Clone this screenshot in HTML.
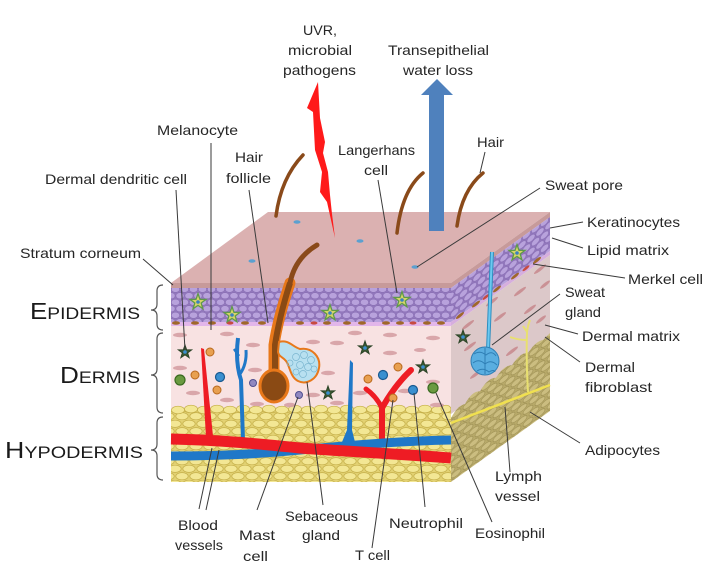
<!DOCTYPE html>
<html><head><meta charset="utf-8">
<style>
html,body{margin:0;padding:0;background:#fff;}
svg{display:block}
text{font-family:"Liberation Sans",sans-serif;fill:#262626;font-size:14px;}
</style></head><body>
<svg width="709" height="567" viewBox="0 0 709 567" xmlns="http://www.w3.org/2000/svg">
<defs>
<pattern id="epi" width="9" height="13" patternUnits="userSpaceOnUse">
<rect width="9" height="13" fill="#9278bc"/>
<ellipse cx="4.5" cy="3.25" rx="4.1" ry="3.1" fill="#b8a2dc" stroke="#8468b0" stroke-width="0.5"/>
<ellipse cx="0" cy="9.75" rx="4.1" ry="3.1" fill="#b8a2dc" stroke="#8468b0" stroke-width="0.5"/>
<ellipse cx="9" cy="9.75" rx="4.1" ry="3.1" fill="#b8a2dc" stroke="#8468b0" stroke-width="0.5"/>
</pattern>
<pattern id="hypo" width="14" height="15" patternUnits="userSpaceOnUse">
<rect width="14" height="15" fill="#e2d172"/>
<ellipse cx="7" cy="3.75" rx="6.2" ry="3.6" fill="#f3e794" stroke="#c4ae48" stroke-width="0.7"/>
<ellipse cx="0" cy="11.25" rx="6.2" ry="3.6" fill="#f3e794" stroke="#c4ae48" stroke-width="0.7"/>
<ellipse cx="14" cy="11.25" rx="6.2" ry="3.6" fill="#f3e794" stroke="#c4ae48" stroke-width="0.7"/>
</pattern>
<pattern id="hypoR" width="12" height="12" patternUnits="userSpaceOnUse">
<rect width="12" height="12" fill="#b8aa6a"/>
<ellipse cx="6" cy="3" rx="5" ry="2.8" fill="#cbbd80" stroke="#9a8c50" stroke-width="0.6"/>
<ellipse cx="0" cy="9" rx="5" ry="2.8" fill="#cbbd80" stroke="#9a8c50" stroke-width="0.6"/>
<ellipse cx="12" cy="9" rx="5" ry="2.8" fill="#cbbd80" stroke="#9a8c50" stroke-width="0.6"/>
</pattern>
<g id="lstar"><polygon points="0,-8.4 2,-2.7 8,-2.6 3.2,1 4.9,6.8 0,3.4 -4.9,6.8 -3.2,1 -8,-2.6 -2,-2.7" fill="#d6d468" stroke="#5f9a4a" stroke-width="1.3"/><circle r="1.8" fill="#3a7fc0"/></g>
<g id="dstar"><polygon points="0,-7 1.65,-2.27 6.66,-2.16 2.66,0.87 4.11,5.66 0,2.8 -4.11,5.66 -2.66,0.87 -6.66,-2.16 -1.65,-2.27" fill="#3b5a34" stroke="#2b4326" stroke-width="1"/><circle r="1.8" fill="#3a8fd0"/></g>
</defs>

<!-- top face -->
<polygon points="268,212 550,212 451,283 171,283" fill="#dbb1b1"/>
<polygon points="171,283 451,283 451,288 171,288" fill="#c79a9a"/>

<!-- front face -->
<rect x="171" y="288" width="280" height="34" fill="url(#epi)"/>
<rect x="171" y="322" width="280" height="4" fill="#e2b6ea"/>
<rect x="171" y="326" width="280" height="84" fill="#f8e2e2"/>
<rect x="171" y="410" width="280" height="72" fill="url(#hypo)"/>
<g fill="#f3e794" stroke="#c4ae48" stroke-width="0.7">
<ellipse cx="178" cy="410" rx="6.5" ry="3.8"/><ellipse cx="191" cy="409" rx="6.5" ry="3.8"/><ellipse cx="204" cy="410" rx="6.5" ry="3.8"/><ellipse cx="217" cy="409" rx="6.5" ry="3.8"/><ellipse cx="230" cy="410" rx="6.5" ry="3.8"/><ellipse cx="243" cy="409" rx="6.5" ry="3.8"/><ellipse cx="256" cy="410" rx="6.5" ry="3.8"/><ellipse cx="269" cy="409" rx="6.5" ry="3.8"/><ellipse cx="282" cy="410" rx="6.5" ry="3.8"/><ellipse cx="295" cy="409" rx="6.5" ry="3.8"/><ellipse cx="308" cy="410" rx="6.5" ry="3.8"/><ellipse cx="321" cy="409" rx="6.5" ry="3.8"/><ellipse cx="334" cy="410" rx="6.5" ry="3.8"/><ellipse cx="347" cy="409" rx="6.5" ry="3.8"/><ellipse cx="360" cy="410" rx="6.5" ry="3.8"/><ellipse cx="373" cy="409" rx="6.5" ry="3.8"/><ellipse cx="386" cy="410" rx="6.5" ry="3.8"/><ellipse cx="399" cy="409" rx="6.5" ry="3.8"/><ellipse cx="412" cy="410" rx="6.5" ry="3.8"/><ellipse cx="425" cy="409" rx="6.5" ry="3.8"/><ellipse cx="438" cy="410" rx="6.5" ry="3.8"/><ellipse cx="446" cy="409" rx="5" ry="3.8"/>
</g>

<!-- right face (skewed) -->
<g transform="matrix(1,-0.717,0,1,0,323.37)">
<rect x="451" y="283" width="99" height="5" fill="#c79a9a"/>
<rect x="451" y="288" width="99" height="34" fill="url(#epi)"/>
<rect x="451" y="322" width="99" height="4" fill="#d6aede"/>
<rect x="451" y="326" width="99" height="88" fill="#dcc8c9"/>
<path d="M451,418 Q458,410 465,414 Q472,406 480,412 Q488,404 496,410 Q504,403 512,409 Q520,402 528,408 Q536,402 543,406 L550,404 L550,482 L451,482 Z" fill="url(#hypoR)"/>
<g fill="#c98c90" opacity="0.9">
<ellipse cx="468" cy="337" rx="6" ry="2"/><ellipse cx="492" cy="331" rx="6" ry="2"/><ellipse cx="520" cy="341" rx="6" ry="2"/><ellipse cx="540" cy="333" rx="6" ry="2"/><ellipse cx="470" cy="360" rx="6" ry="2"/><ellipse cx="500" cy="352" rx="6" ry="2"/><ellipse cx="530" cy="366" rx="6" ry="2"/><ellipse cx="545" cy="352" rx="5" ry="2"/><ellipse cx="476" cy="392" rx="6" ry="2"/><ellipse cx="512" cy="395" rx="6" ry="2"/><ellipse cx="541" cy="384" rx="5" ry="2"/>
</g>
<g fill="#a0682a"><ellipse cx="460" cy="322" rx="4" ry="1.8"/><ellipse cx="476" cy="322" rx="4" ry="1.8"/><ellipse cx="497" cy="322" rx="4" ry="1.8"/><ellipse cx="515" cy="322" rx="4" ry="1.8"/><ellipse cx="537" cy="322" rx="4" ry="1.8"/></g>
<g fill="#c84a40"><ellipse cx="486" cy="322" rx="3.5" ry="1.6"/><ellipse cx="526" cy="322" rx="3.5" ry="1.6"/></g>
</g>

<!-- front fibroblasts -->
<g fill="#d6a0a4" opacity="0.9">
<ellipse cx="180" cy="335" rx="7" ry="2.2"/><ellipse cx="227" cy="334" rx="7" ry="2.2"/><ellipse cx="253" cy="345" rx="7" ry="2.2"/><ellipse cx="313" cy="342" rx="7" ry="2.2"/><ellipse cx="337" cy="343" rx="7" ry="2.2"/><ellipse cx="390" cy="335" rx="7" ry="2.2"/><ellipse cx="433" cy="338" rx="7" ry="2.2"/><ellipse cx="180" cy="368" rx="7" ry="2.2"/><ellipse cx="255" cy="370" rx="7" ry="2.2"/><ellipse cx="328" cy="373" rx="7" ry="2.2"/><ellipse cx="390" cy="353" rx="7" ry="2.2"/><ellipse cx="433" cy="382" rx="7" ry="2.2"/><ellipse cx="193" cy="393" rx="7" ry="2.2"/><ellipse cx="257" cy="404" rx="7" ry="2.2"/><ellipse cx="227" cy="400" rx="7" ry="2.2"/><ellipse cx="313" cy="395" rx="7" ry="2.2"/><ellipse cx="337" cy="403" rx="7" ry="2.2"/><ellipse cx="360" cy="393" rx="7" ry="2.2"/><ellipse cx="405" cy="391" rx="7" ry="2.2"/><ellipse cx="437" cy="405" rx="7" ry="2.2"/><ellipse cx="290" cy="405" rx="6" ry="2.2"/><ellipse cx="355" cy="333" rx="7" ry="2.2"/><ellipse cx="420" cy="350" rx="6" ry="2"/>
</g>

<!-- melanocytes front -->
<g fill="#a0682a">
<ellipse cx="176" cy="323" rx="4" ry="1.8"/><ellipse cx="195" cy="323" rx="4" ry="1.8"/><ellipse cx="212" cy="323" rx="4" ry="1.8"/><ellipse cx="245" cy="323" rx="4" ry="1.8"/><ellipse cx="262" cy="323" rx="4" ry="1.8"/><ellipse cx="300" cy="323" rx="4" ry="1.8"/><ellipse cx="327" cy="323" rx="4" ry="1.8"/><ellipse cx="347" cy="323" rx="4" ry="1.8"/><ellipse cx="362" cy="323" rx="4" ry="1.8"/><ellipse cx="386" cy="323" rx="4" ry="1.8"/><ellipse cx="400" cy="323" rx="4" ry="1.8"/><ellipse cx="427" cy="323" rx="4" ry="1.8"/><ellipse cx="441" cy="323" rx="4" ry="1.8"/>
</g>
<g fill="#c84a40"><ellipse cx="230" cy="323" rx="3.5" ry="1.6"/><ellipse cx="314" cy="323" rx="3.5" ry="1.6"/><ellipse cx="413" cy="323" rx="3.5" ry="1.6"/></g>

<!-- vertical vessels -->
<polygon points="201,348 204,349 213,436 206,438" fill="#ee1c24"/>
<path d="M238,338 Q235,362 241,380 L243,440" stroke="#1f78c8" stroke-width="4" fill="none"/>
<path d="M240,374 Q247,364 246,350" stroke="#1f78c8" stroke-width="3" fill="none"/>
<path d="M239,356 L234,349" stroke="#1f78c8" stroke-width="2.5" fill="none"/>
<polygon points="350,360 353,363 352,430 355,442 342,442 347,430" fill="#1f78c8"/>
<path d="M382,442 L382,405" stroke="#ee1c24" stroke-width="6" fill="none"/>
<path d="M382,408 Q376,396 366,389" stroke="#ee1c24" stroke-width="5" fill="none" stroke-linecap="round"/>
<path d="M382,408 Q395,385 411,370" stroke="#ee1c24" stroke-width="6" fill="none" stroke-linecap="round"/>

<!-- horizontal vessels -->
<path d="M171,456 C220,456 260,454 300,450 C340,446 400,441 451,440" stroke="#1f78c8" stroke-width="9" fill="none"/>
<path d="M171,439 C220,440 260,444 300,448 C340,451 400,454 451,458" stroke="#ee1c24" stroke-width="11" fill="none"/>

<!-- dermis cells -->
<g fill="#e8a050" stroke="#b8681c" stroke-width="1">
<circle cx="210" cy="352" r="4"/><circle cx="195" cy="375" r="4"/><circle cx="217" cy="390" r="4"/><circle cx="398" cy="367" r="4"/><circle cx="368" cy="379" r="4"/><circle cx="393" cy="398" r="4"/>
</g>
<g fill="#3a90d0" stroke="#1a5a90" stroke-width="1.2">
<circle cx="220" cy="377" r="4.5"/><circle cx="383" cy="375" r="4.5"/><circle cx="413" cy="390" r="4.5"/>
</g>
<g fill="#6a9a40" stroke="#3a6a20" stroke-width="1.2">
<circle cx="180" cy="380" r="5"/><circle cx="433" cy="388" r="5"/>
</g>
<g fill="#9088c0" stroke="#505090" stroke-width="1">
<circle cx="253" cy="383" r="3.5"/><circle cx="299" cy="395" r="3.5"/>
</g>
<use href="#dstar" x="185" y="352"/>
<use href="#dstar" x="365" y="348"/>
<use href="#dstar" x="423" y="367"/>
<use href="#dstar" x="328" y="393"/>
<use href="#dstar" x="463" y="337"/>

<!-- langerhans stars -->
<use href="#lstar" x="198" y="302"/>
<use href="#lstar" x="232" y="315"/>
<use href="#lstar" x="330" y="313"/>
<use href="#lstar" x="402" y="300"/>
<use href="#lstar" x="517" y="253"/>

<!-- hair follicle -->
<path d="M290,283 Q278,318 274,345 L274,374" stroke="#e8781a" stroke-width="11" fill="none" stroke-linecap="round"/>
<path d="M290,283 Q279,318 275,345 L275,374" stroke="#8a4a14" stroke-width="6" fill="none"/>
<path d="M279,342 C288,339 293,347 300,349 C312,347 321,357 319,368 C317,380 306,385 298,381 C290,377 290,366 286,361 C283,357 279,357 278,352 Z" fill="#b8e0f0" stroke="#e8781a" stroke-width="2"/>
<g fill="none" stroke="#7bb6d0" stroke-width="0.7">
<circle cx="296" cy="357" r="3.5"/><circle cx="304" cy="355" r="3.5"/><circle cx="311" cy="360" r="3.5"/><circle cx="300" cy="365" r="3.5"/><circle cx="308" cy="367" r="3.5"/><circle cx="314" cy="369" r="3"/><circle cx="303" cy="374" r="3.5"/><circle cx="296" cy="372" r="3"/><circle cx="290" cy="363" r="3"/>
</g>
<ellipse cx="274" cy="386" rx="14" ry="16" fill="#8a4a14" stroke="#e8781a" stroke-width="3"/>

<!-- sweat gland -->
<path d="M492,252 L488,350" stroke="#2f8fc0" stroke-width="4" fill="none"/>
<path d="M492,252 L488,350" stroke="#6cc8f0" stroke-width="2" fill="none"/>
<circle cx="485" cy="361" r="14" fill="#5aaee0" stroke="#2f7fb5" stroke-width="1"/>
<g fill="none" stroke="#2f7fb5" stroke-width="1">
<path d="M474,354 Q480,350 486,355 Q492,350 496,356"/><path d="M473,363 Q479,358 485,364 Q491,359 497,365"/><path d="M477,371 Q483,367 489,372 Q494,369 495,372"/><path d="M485,348 L485,374"/>
</g>

<!-- lymph & nerve -->
<path d="M451,423 L550,385" stroke="#f0e050" stroke-width="2.5" fill="none"/>
<g stroke="#e8e070" stroke-width="2" fill="none">
<path d="M528,392 Q526,360 527,332 Q528,325 530,320"/>
<path d="M527,340 Q518,340 510,337"/>
<path d="M527,332 L523,326"/>
</g>

<!-- pores -->
<g fill="#5ba0d0"><ellipse cx="297" cy="222" rx="3.5" ry="1.8"/><ellipse cx="360" cy="241" rx="3.5" ry="1.8"/><ellipse cx="252" cy="261" rx="3.5" ry="1.8"/><ellipse cx="415" cy="267" rx="3.5" ry="1.8"/></g>

<!-- hairs -->
<g stroke="#8a4a1a" fill="none" stroke-linecap="round">
<path d="M276,216 Q281,178 303,155" stroke-width="3.5"/>
<path d="M397,233 Q402,190 423,173" stroke-width="3.5"/>
<path d="M457,226 Q462,190 483,173" stroke-width="3.5"/>
<path d="M317,245 Q295,258 290,283" stroke-width="5"/>
</g>

<!-- arrow -->
<rect x="429" y="94" width="15" height="137" fill="#4f81bd"/>
<polygon points="421,95 437,79 453,95" fill="#4f81bd"/>

<!-- lightning -->
<polygon points="318,82 307,108 313,112 315,150 322,172 320,192 327,202 335,238 332,214 330,195 328,172 323,153 325,142 320,118" fill="#ff1a1a"/>

<!-- brackets -->
<g stroke="#555" stroke-width="1.2" fill="none">
<path d="M163,285 Q157,285 157,291 L157,304 Q157,310 151,310 Q157,310 157,316 L157,324 Q157,330 163,330"/>
<path d="M163,333 Q157,333 157,339 L157,369 Q157,375 151,375 Q157,375 157,381 L157,407 Q157,413 163,413"/>
<path d="M163,417 Q157,417 157,423 L157,444 Q157,450 151,450 Q157,450 157,456 L157,474 Q157,480 163,480"/>
</g>

<!-- leader lines -->
<g stroke="#3a3a3a" stroke-width="1" fill="none">
<line x1="143" y1="259" x2="173" y2="285"/>
<line x1="176" y1="190" x2="185" y2="350"/>
<line x1="211" y1="143" x2="211" y2="330"/>
<line x1="249" y1="190" x2="268" y2="323"/>
<line x1="378" y1="180" x2="397" y2="293"/>
<line x1="485" y1="152" x2="480" y2="173"/>
<line x1="540" y1="188" x2="417" y2="267"/>
<line x1="583" y1="222" x2="550" y2="228"/>
<line x1="583" y1="248" x2="552" y2="238"/>
<line x1="625" y1="278" x2="533" y2="264"/>
<line x1="560" y1="294" x2="492" y2="345"/>
<line x1="578" y1="334" x2="545" y2="325"/>
<line x1="580" y1="362" x2="545" y2="337"/>
<line x1="580" y1="443" x2="530" y2="412"/>
<line x1="510" y1="472" x2="505" y2="407"/>
<line x1="492" y1="522" x2="436" y2="393"/>
<line x1="425" y1="507" x2="414" y2="393"/>
<line x1="372" y1="548" x2="393" y2="400"/>
<line x1="323" y1="505" x2="307" y2="382"/>
<line x1="257" y1="510" x2="298" y2="397"/>
<line x1="199" y1="509" x2="212" y2="448"/>
<line x1="206" y1="510" x2="219" y2="450"/>
</g>

<!-- labels -->
<text x="303" y="35" textLength="34" lengthAdjust="spacingAndGlyphs">UVR,</text>
<text x="288" y="55" textLength="64" lengthAdjust="spacingAndGlyphs">microbial</text>
<text x="283" y="75" textLength="73" lengthAdjust="spacingAndGlyphs">pathogens</text>
<text x="388" y="55" textLength="101" lengthAdjust="spacingAndGlyphs">Transepithelial</text>
<text x="403" y="75" textLength="70" lengthAdjust="spacingAndGlyphs">water loss</text>
<text x="157" y="135" textLength="81" lengthAdjust="spacingAndGlyphs">Melanocyte</text>
<text x="235" y="162" textLength="28" lengthAdjust="spacingAndGlyphs">Hair</text>
<text x="226" y="183" textLength="45" lengthAdjust="spacingAndGlyphs">follicle</text>
<text x="338" y="155" textLength="77" lengthAdjust="spacingAndGlyphs">Langerhans</text>
<text x="364" y="175" textLength="24" lengthAdjust="spacingAndGlyphs">cell</text>
<text x="477" y="147" textLength="27" lengthAdjust="spacingAndGlyphs">Hair</text>
<text x="45" y="184" textLength="142" lengthAdjust="spacingAndGlyphs">Dermal dendritic cell</text>
<text x="545" y="190" textLength="78" lengthAdjust="spacingAndGlyphs">Sweat pore</text>
<text x="587" y="227" textLength="93" lengthAdjust="spacingAndGlyphs">Keratinocytes</text>
<text x="587" y="255" textLength="82" lengthAdjust="spacingAndGlyphs">Lipid matrix</text>
<text x="628" y="284" textLength="75" lengthAdjust="spacingAndGlyphs">Merkel cell</text>
<text x="565" y="297" textLength="40" lengthAdjust="spacingAndGlyphs">Sweat</text>
<text x="565" y="317" textLength="36" lengthAdjust="spacingAndGlyphs">gland</text>
<text x="582" y="341" textLength="98" lengthAdjust="spacingAndGlyphs">Dermal matrix</text>
<text x="585" y="372" textLength="50" lengthAdjust="spacingAndGlyphs">Dermal</text>
<text x="585" y="392" textLength="67" lengthAdjust="spacingAndGlyphs">fibroblast</text>
<text x="585" y="455" textLength="75" lengthAdjust="spacingAndGlyphs">Adipocytes</text>
<text x="20" y="258" textLength="121" lengthAdjust="spacingAndGlyphs">Stratum corneum</text>
<text x="495" y="481" textLength="47" lengthAdjust="spacingAndGlyphs">Lymph</text>
<text x="495" y="501" textLength="45" lengthAdjust="spacingAndGlyphs">vessel</text>
<text x="178" y="530" textLength="40" lengthAdjust="spacingAndGlyphs">Blood</text>
<text x="175" y="550" textLength="48" lengthAdjust="spacingAndGlyphs">vessels</text>
<text x="239" y="540" textLength="36" lengthAdjust="spacingAndGlyphs">Mast</text>
<text x="243" y="561" textLength="25" lengthAdjust="spacingAndGlyphs">cell</text>
<text x="285" y="521" textLength="73" lengthAdjust="spacingAndGlyphs">Sebaceous</text>
<text x="302" y="540" textLength="38" lengthAdjust="spacingAndGlyphs">gland</text>
<text x="355" y="560" textLength="35" lengthAdjust="spacingAndGlyphs">T cell</text>
<text x="389" y="528" textLength="74" lengthAdjust="spacingAndGlyphs">Neutrophil</text>
<text x="475" y="538" textLength="70" lengthAdjust="spacingAndGlyphs">Eosinophil</text>

<text x="30" y="319" textLength="110" lengthAdjust="spacingAndGlyphs" style="fill:#1a1a1a"><tspan style="font-size:23px">E</tspan><tspan style="font-size:17px">PIDERMIS</tspan></text>
<text x="60" y="383" textLength="80" lengthAdjust="spacingAndGlyphs" style="fill:#1a1a1a"><tspan style="font-size:23px">D</tspan><tspan style="font-size:17px">ERMIS</tspan></text>
<text x="5" y="458" textLength="138" lengthAdjust="spacingAndGlyphs" style="fill:#1a1a1a"><tspan style="font-size:23px">H</tspan><tspan style="font-size:17px">YPODERMIS</tspan></text>
</svg>
</body></html>
